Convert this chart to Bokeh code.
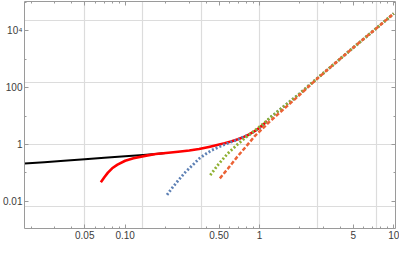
from bokeh.plotting import figure
from bokeh.models import FixedTicker, LogAxis, Range1d, Grid, LogScale
from bokeh.embed import file_html
from bokeh.resources import INLINE

# ---- data (log-log) ----
black_x = [0.0178, 0.025, 0.035, 0.05, 0.07, 0.1, 0.136, 0.169, 0.2]
black_y = [0.212, 0.237, 0.266, 0.30, 0.338, 0.381, 0.425, 0.46, 0.50]

red_x = [0.0659, 0.070, 0.0744, 0.080, 0.0877, 0.1, 0.1153, 0.1436, 0.169, 0.21,
         0.248, 0.30, 0.355, 0.42, 0.493, 0.55, 0.614, 0.69, 0.765, 0.83,
         0.902, 0.98, 1.063, 1.14]
red_y = [0.0471, 0.070, 0.102, 0.145, 0.196, 0.268, 0.327, 0.404, 0.46, 0.51,
         0.555, 0.615, 0.69, 0.82, 0.98, 1.11, 1.28, 1.52, 1.84, 2.2,
         2.75, 3.6, 4.9, 6.6]

tail_x = [1.2, 1.286, 1.4, 1.604, 1.995, 2.772, 3.5, 5.07, 7.0, 10.0]
tail_y = [8.8, 11.4, 15.8, 26.6, 62.0, 238.0, 600.0, 2700.0, 9600.0, 40000.0]

blue_x = [0.205, 0.215, 0.228, 0.248, 0.28, 0.327, 0.3548, 0.40, 0.4416, 0.55,
          0.685, 0.852, 1.005, 1.1]
blue_y = [0.0168, 0.023, 0.033, 0.0538, 0.105, 0.215, 0.315, 0.47, 0.628, 1.0,
          1.47, 2.3, 3.9, 5.7]

green_x = [0.430, 0.493, 0.581, 0.685, 0.807, 0.952, 1.122]
green_y = [0.0837, 0.196, 0.483, 1.0, 1.90, 3.48, 6.5]

orange_x = [0.507, 0.581, 0.685, 0.807, 0.926, 1.033, 1.185, 1.35, 1.516, 1.75,
            1.995, 2.772]
orange_y = [0.0643, 0.140, 0.373, 0.925, 2.01, 3.3, 6.2, 10.8, 17.5, 32.0,
            56.0, 232.0]
orange_tail_x = [3.5, 5.07, 7.0, 10.0]
orange_tail_y = [600.0, 2700.0, 9600.0, 40000.0]

x_major = [0.05, 0.1, 0.5, 1, 5, 10]
x_major_labels = ["0.05", "0.10", "0.50", "1", "5", "10"]
x_minor = [0.02, 0.03, 0.04, 0.06, 0.07, 0.08, 0.09, 0.2, 0.3, 0.4, 0.6, 0.7,
           0.8, 0.9, 2, 3, 4, 6, 7, 8, 9]
y_major = [0.01, 1, 100, 10000]
y_major_labels = ["0.01", "1", "100", "10\u2074"]
y_minor = [0.001, 0.1, 10, 1000, 100000]

x_grid = [0.0498, 0.1353, 0.3679, 1.0, 2.718, 7.389]
y_grid = [0.006738, 1.0, 148.41, 22026.0]

FRAME = "#9a9a9a"

p = figure(width=399, height=241, x_axis_type=None, y_axis_type=None,
           x_range=Range1d(0.0178, 10.3), y_range=Range1d(0.00111, 1.06e5),
           output_backend="svg", toolbar_location=None,
           min_border_left=20, min_border_right=4, min_border_top=1,
           min_border_bottom=13)
p.x_scale = LogScale()
p.y_scale = LogScale()
p.outline_line_color = None
p.background_fill_color = "white"
p.border_fill_color = "white"


def mk_axis(ticks, minor, labels, show):
    ax = LogAxis(ticker=FixedTicker(ticks=ticks, minor_ticks=minor))
    ax.axis_line_color = FRAME
    ax.axis_line_width = 1
    ax.major_tick_line_color = FRAME
    ax.minor_tick_line_color = FRAME
    ax.major_tick_in = 4
    ax.major_tick_out = 0
    ax.minor_tick_in = 2
    ax.minor_tick_out = 0
    if show:
        ax.major_label_overrides = {t: l for t, l in zip(ticks, labels)}
        ax.major_label_text_font = "Liberation Sans"
        ax.major_label_text_font_size = "10px"
        ax.major_label_text_color = "#3c3c3c"
        ax.major_label_standoff = 2
    else:
        ax.major_label_overrides = {t: "" for t in ticks}
        ax.major_label_text_font_size = "0px"
        ax.major_label_standoff = 0
    return ax


p.add_layout(mk_axis(x_major, x_minor, x_major_labels, True), "below")
p.add_layout(mk_axis(x_major, x_minor, x_major_labels, False), "above")
p.add_layout(mk_axis(y_major, y_minor, y_major_labels, True), "left")
p.add_layout(mk_axis(y_major, y_minor, y_major_labels, False), "right")

p.add_layout(Grid(dimension=0, ticker=FixedTicker(ticks=x_grid),
                  grid_line_color="#dcdcdc", grid_line_width=1.2))
p.add_layout(Grid(dimension=1, ticker=FixedTicker(ticks=y_grid),
                  grid_line_color="#dcdcdc", grid_line_width=1.2))

p.line(black_x, black_y, line_color="black", line_width=2, line_join="round")
p.line(red_x, red_y, line_color="#ff0000", line_width=2.6, line_join="round")
p.line(blue_x + tail_x, blue_y + tail_y, line_color="#5E81B5", line_width=2.8,
       line_dash="2 2")
p.line(green_x + tail_x, green_y + tail_y, line_color="#8FB032", line_width=2.8,
       line_dash="2 2")
p.line(orange_x + orange_tail_x, orange_y + orange_tail_y, line_color="#EB6235",
       line_width=2.5, line_dash="4 2")

open("out.html", "w").write(file_html(p, INLINE))
